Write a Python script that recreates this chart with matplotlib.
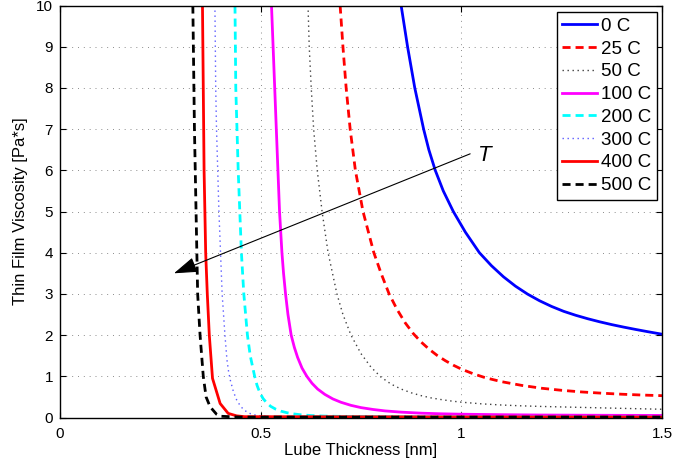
import matplotlib
matplotlib.use("Agg")
import matplotlib.pyplot as plt

plt.rcParams["font.family"] = ["Liberation Sans", "DejaVu Sans"]

# Lube thickness [nm] and thin film viscosity [Pa*s] for each temperature
thickness_0C = [0.850, 0.858, 0.866, 0.875, 0.884, 0.895, 0.906, 0.919, 0.935, 0.955, 0.980,
                1.010, 1.045, 1.075, 1.105, 1.135, 1.165, 1.195, 1.225, 1.255, 1.285, 1.315,
                1.345, 1.375, 1.405, 1.435, 1.465, 1.5]
viscosity_0C = [10.0, 9.5, 9.0, 8.5, 8.0, 7.5, 7.0, 6.5, 6.0, 5.5, 5.0,
                4.5, 4.0, 3.685, 3.415, 3.187, 2.995, 2.833, 2.695, 2.577, 2.481, 2.397,
                2.322, 2.254, 2.193, 2.136, 2.082, 2.022]

thickness_25C = [0.698, 0.705, 0.713, 0.723, 0.736, 0.755, 0.782, 0.800, 0.820, 0.840, 0.860,
                 0.880, 0.900, 0.920, 0.940, 0.960, 0.980, 1.0, 1.03, 1.06, 1.10, 1.15,
                 1.20, 1.25, 1.30, 1.35, 1.40, 1.45, 1.5]
viscosity_25C = [10.0, 9.0, 8.0, 7.0, 6.0, 5.0, 4.0, 3.5, 3.0, 2.62, 2.30,
                 2.04, 1.83, 1.655, 1.505, 1.38, 1.27, 1.175, 1.06, 0.965, 0.87, 0.78,
                 0.71, 0.66, 0.62, 0.59, 0.565, 0.545, 0.53]

thickness_50C = [0.618, 0.621, 0.626, 0.632, 0.641, 0.653, 0.668, 0.690, 0.705, 0.725, 0.750,
                 0.775, 0.800, 0.825, 0.850, 0.875, 0.900, 0.925, 0.950, 0.975, 1.0,
                 1.05, 1.10, 1.15, 1.20, 1.30, 1.40, 1.5]
viscosity_50C = [10.0, 9.0, 8.0, 7.0, 6.0, 5.0, 4.0, 3.0, 2.5, 2.0, 1.55,
                 1.22, 0.98, 0.81, 0.69, 0.60, 0.53, 0.475, 0.435, 0.40, 0.372,
                 0.332, 0.303, 0.283, 0.268, 0.245, 0.222, 0.20]

thickness_100C = [0.527, 0.531, 0.535, 0.539, 0.543, 0.547, 0.553, 0.557, 0.562, 0.568, 0.576,
                  0.584, 0.592, 0.603, 0.615, 0.628, 0.642, 0.660, 0.680, 0.700, 0.725,
                  0.750, 0.780, 0.810, 0.850, 0.900, 0.950, 1.0, 1.1, 1.2, 1.35, 1.5]
viscosity_100C = [10.0, 9.0, 8.0, 7.0, 6.0, 5.0, 4.0, 3.5, 3.0, 2.5, 2.0,
                  1.70, 1.46, 1.20, 1.0, 0.83, 0.69, 0.56, 0.45, 0.37, 0.295,
                  0.24, 0.195, 0.16, 0.13, 0.105, 0.09, 0.08, 0.068, 0.06, 0.054, 0.05]

thickness_200C = [0.436, 0.437, 0.438, 0.441, 0.444, 0.448, 0.452, 0.458, 0.467, 0.474, 0.485,
                  0.491, 0.498, 0.506, 0.515, 0.525, 0.537, 0.550, 0.565, 0.580, 0.600,
                  0.625, 0.660, 0.720, 0.850, 1.1, 1.5]
viscosity_200C = [10.0, 9.0, 8.0, 7.0, 6.0, 5.0, 4.0, 3.0, 2.0, 1.5, 1.0,
                  0.78, 0.60, 0.46, 0.355, 0.27, 0.205, 0.155, 0.117, 0.09, 0.066,
                  0.048, 0.034, 0.024, 0.016, 0.012, 0.01]

thickness_300C = [0.386, 0.387, 0.388, 0.390, 0.393, 0.396, 0.400, 0.404, 0.411, 0.416, 0.420,
                  0.424, 0.432, 0.440, 0.450, 0.460, 0.475, 0.49, 0.52, 0.6, 1.5]
viscosity_300C = [10.0, 9.0, 8.0, 7.0, 6.0, 5.0, 4.0, 3.0, 2.0, 1.4, 1.12,
                  0.92, 0.63, 0.43, 0.27, 0.17, 0.09, 0.05, 0.025, 0.012, 0.01]

thickness_400C = [0.355, 0.356, 0.357, 0.358, 0.359, 0.361, 0.363, 0.367, 0.372, 0.380, 0.399,
                  0.419, 0.44, 0.46, 1.5]
viscosity_400C = [10.0, 9.0, 8.0, 7.0, 6.0, 5.0, 4.0, 3.0, 2.0, 0.95, 0.34,
                  0.1, 0.04, 0.02, 0.01]

thickness_500C = [0.331, 0.335, 0.339, 0.343, 0.349, 0.357, 0.364, 0.374, 0.39, 0.40, 0.45, 1.5]
viscosity_500C = [10.0, 7.0, 5.0, 3.0, 2.0, 1.0, 0.5, 0.26, 0.08, 0.03, 0.01, 0.01]

temperature_labels = ["0 C", "25 C", "50 C", "100 C", "200 C", "300 C", "400 C", "500 C"]

x_ticks = [0, 0.5, 1.0, 1.5]
x_tick_labels = ["0", "0.5", "1", "1.5"]
y_ticks = [0, 1, 2, 3, 4, 5, 6, 7, 8, 9, 10]
y_tick_labels = ["0", "1", "2", "3", "4", "5", "6", "7", "8", "9", "10"]

series = [
    (thickness_0C, viscosity_0C),
    (thickness_25C, viscosity_25C),
    (thickness_50C, viscosity_50C),
    (thickness_100C, viscosity_100C),
    (thickness_200C, viscosity_200C),
    (thickness_300C, viscosity_300C),
    (thickness_400C, viscosity_400C),
    (thickness_500C, viscosity_500C),
]

dash = (0, (2.9, 1.8))
dots = (0, (1, 2.6))
line_styles = [
    dict(color="#0000ff", linestyle="-", linewidth=2.0),
    dict(color="#ff0000", linestyle=dash, linewidth=2.0),
    dict(color="#404040", linestyle=dots, linewidth=1.0),
    dict(color="#ff00ff", linestyle="-", linewidth=2.0),
    dict(color="#00ffff", linestyle=dash, linewidth=2.0),
    dict(color="#5a5aff", linestyle=dots, linewidth=1.0),
    dict(color="#ff0000", linestyle="-", linewidth=2.0),
    dict(color="#000000", linestyle=dash, linewidth=2.0),
]

fig = plt.figure(figsize=(6.74, 4.67), dpi=100)
ax = fig.add_axes([60 / 674, 1 - 417.5 / 467, 602 / 674, 412 / 467])

for (xs, ys), label, style in zip(series, temperature_labels, line_styles):
    ax.plot(xs, ys, label=label, **style)

ax.set_xlim(0, 1.5)
ax.set_ylim(0, 10)
ax.set_xticks(x_ticks)
ax.set_xticklabels(x_tick_labels)
ax.set_yticks(y_ticks)
ax.set_yticklabels(y_tick_labels)
ax.grid(True, color="0.55", linestyle=(0, (1, 5)), linewidth=0.7)
ax.set_axisbelow(True)
ax.tick_params(direction="in", top=True, right=True, length=4, width=0.8,
               labelsize=11)
ax.tick_params(axis="x", pad=7)
ax.tick_params(axis="y", pad=5)
for spine in ax.spines.values():
    spine.set_linewidth(1.0)

ax.set_xlabel("Lube Thickness [nm]", fontsize=12, labelpad=1)
ax.set_ylabel("Thin Film Viscosity [Pa*s]", fontsize=12, labelpad=6)

# Direction of increasing temperature
ax.annotate("", xy=(0.284, 3.5), xytext=(1.022, 6.40),
            arrowprops=dict(arrowstyle="-|>,head_length=0.9,head_width=0.3",
                            color="k", lw=0.8, mutation_scale=16,
                            shrinkA=0, shrinkB=0))
ax.text(1.059, 6.37, "T", fontsize=16, style="italic", ha="center", va="center")

leg = ax.legend(loc="upper right", bbox_to_anchor=(0.9917, 0.984), borderaxespad=0,
                fontsize=13.5, handlelength=1.87, handletextpad=0.2,
                borderpad=0.3, labelspacing=0.3, fancybox=False, framealpha=1,
                edgecolor="black")
leg.get_frame().set_linewidth(1.0)

fig.savefig("out.png", dpi=100)
